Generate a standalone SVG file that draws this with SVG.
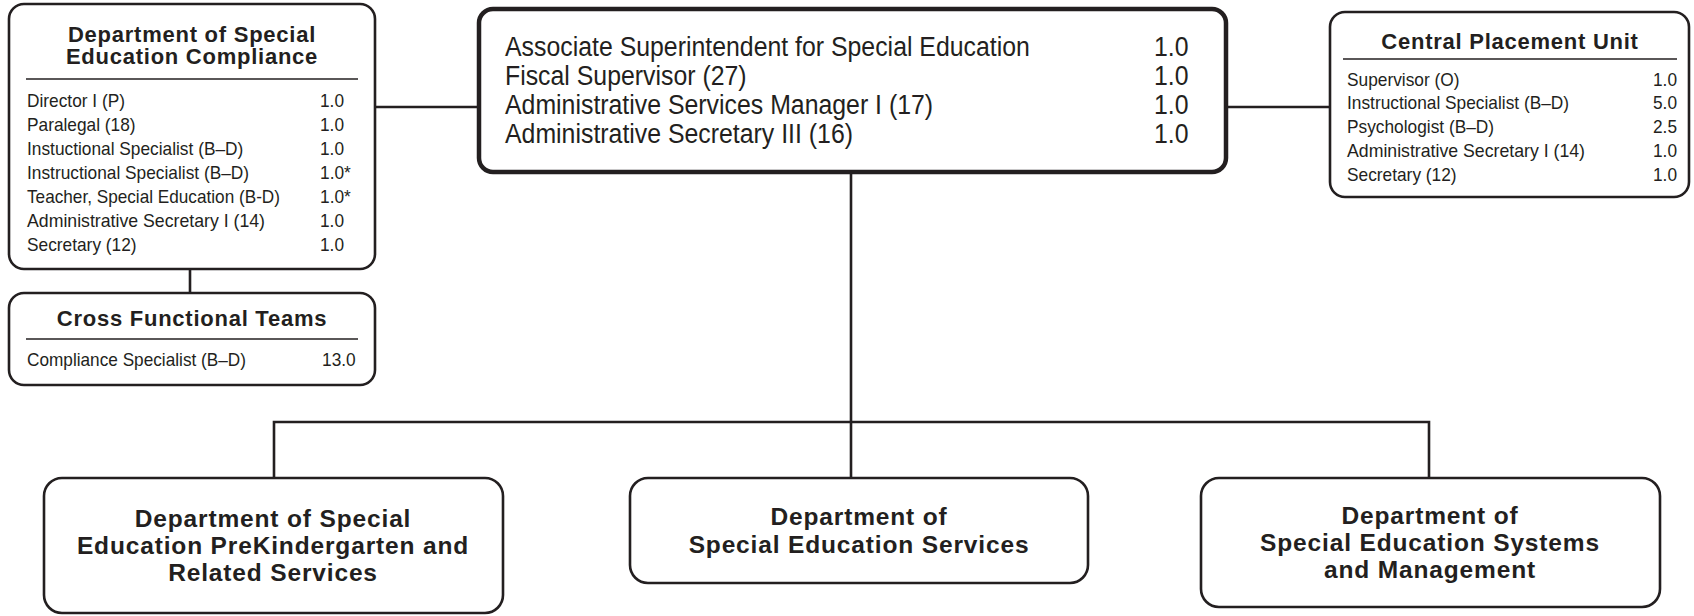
<svg xmlns="http://www.w3.org/2000/svg" width="1694" height="616" viewBox="0 0 1694 616">
<style>
.box{fill:#fff;stroke:#231f20;stroke-width:2.6}
.main{fill:#fff;stroke:#231f20;stroke-width:4.5}
.conn{fill:none;stroke:#231f20;stroke-width:2.6}
.rule{stroke:#231f20;stroke-width:1.4}
.t{font-family:"Liberation Sans",Arial,sans-serif;font-weight:bold;font-size:22px;letter-spacing:0.75px;fill:#231f20;text-anchor:middle}
.bt{font-family:"Liberation Sans",Arial,sans-serif;font-weight:bold;font-size:24.5px;letter-spacing:0.85px;fill:#231f20;text-anchor:middle}
.r{font-family:"Liberation Sans",Arial,sans-serif;font-size:19px;fill:#231f20}
.m{font-family:"Liberation Sans",Arial,sans-serif;font-size:27px;fill:#231f20}
</style>
<rect width="1694" height="616" fill="#fff"/>
<g id="connectors">
<line class="conn" x1="375" y1="107" x2="478" y2="107"/>
<line class="conn" x1="1226" y1="107" x2="1330" y2="107"/>
<line class="conn" x1="190" y1="269" x2="190" y2="293"/>
<line class="conn" x1="851" y1="172" x2="851" y2="478"/>
<polyline class="conn" points="274,478 274,422 1429,422 1429,478"/>
</g>
<g id="compliance">
<rect class="box" x="9" y="4" width="366" height="265" rx="15"/>
<text class="t" x="192" y="41.5">Department of Special</text>
<text class="t" x="192" y="64">Education Compliance</text>
<line class="rule" x1="26" y1="79" x2="358" y2="79"/>
<text class="r" x="27" y="106.5" textLength="98" lengthAdjust="spacingAndGlyphs">Director I (P)</text>
<text class="r" x="27" y="130.5" textLength="108.6" lengthAdjust="spacingAndGlyphs">Paralegal (18)</text>
<text class="r" x="27" y="154.5" textLength="216.3" lengthAdjust="spacingAndGlyphs">Instuctional Specialist (B–D)</text>
<text class="r" x="27" y="178.5" textLength="222.1" lengthAdjust="spacingAndGlyphs">Instructional Specialist (B–D)</text>
<text class="r" x="27" y="202.5" textLength="253" lengthAdjust="spacingAndGlyphs">Teacher, Special Education (B-D)</text>
<text class="r" x="27" y="226.5" textLength="238" lengthAdjust="spacingAndGlyphs">Administrative Secretary I (14)</text>
<text class="r" x="27" y="250.5" textLength="109.6" lengthAdjust="spacingAndGlyphs">Secretary (12)</text>
<text class="r" x="320" y="106.5" textLength="24" lengthAdjust="spacingAndGlyphs">1.0</text>
<text class="r" x="320" y="130.5" textLength="24" lengthAdjust="spacingAndGlyphs">1.0</text>
<text class="r" x="320" y="154.5" textLength="24" lengthAdjust="spacingAndGlyphs">1.0</text>
<text class="r" x="320" y="178.5" textLength="30.8" lengthAdjust="spacingAndGlyphs">1.0*</text>
<text class="r" x="320" y="202.5" textLength="30.8" lengthAdjust="spacingAndGlyphs">1.0*</text>
<text class="r" x="320" y="226.5" textLength="24" lengthAdjust="spacingAndGlyphs">1.0</text>
<text class="r" x="320" y="250.5" textLength="24" lengthAdjust="spacingAndGlyphs">1.0</text>
</g>
<g id="cross-functional">
<rect class="box" x="9" y="293" width="366" height="92" rx="15"/>
<text class="t" x="192" y="326">Cross Functional Teams</text>
<line class="rule" x1="26" y1="339" x2="358" y2="339"/>
<text class="r" x="27" y="366" textLength="219" lengthAdjust="spacingAndGlyphs">Compliance Specialist (B–D)</text>
<text class="r" x="322" y="366" textLength="33.7" lengthAdjust="spacingAndGlyphs">13.0</text>
</g>
<g id="associate-superintendent">
<rect class="main" x="479" y="9" width="747" height="163" rx="14"/>
<text class="m" x="505" y="56" textLength="524.9" lengthAdjust="spacingAndGlyphs">Associate Superintendent for Special Education</text>
<text class="m" x="505" y="85" textLength="241.6" lengthAdjust="spacingAndGlyphs">Fiscal Supervisor (27)</text>
<text class="m" x="505" y="114" textLength="428.1" lengthAdjust="spacingAndGlyphs">Administrative Services Manager I (17)</text>
<text class="m" x="505" y="143" textLength="348" lengthAdjust="spacingAndGlyphs">Administrative Secretary III (16)</text>
<text class="m" x="1154" y="56" textLength="34.5" lengthAdjust="spacingAndGlyphs">1.0</text>
<text class="m" x="1154" y="85" textLength="34.5" lengthAdjust="spacingAndGlyphs">1.0</text>
<text class="m" x="1154" y="114" textLength="34.5" lengthAdjust="spacingAndGlyphs">1.0</text>
<text class="m" x="1154" y="143" textLength="34.5" lengthAdjust="spacingAndGlyphs">1.0</text>
</g>
<g id="central-placement">
<rect class="box" x="1330" y="12" width="359" height="185" rx="15"/>
<text class="t" x="1510" y="49">Central Placement Unit</text>
<line class="rule" x1="1343" y1="59" x2="1677" y2="59"/>
<text class="r" x="1347" y="85.5" textLength="112.5" lengthAdjust="spacingAndGlyphs">Supervisor (O)</text>
<text class="r" x="1347" y="109.4" textLength="222.1" lengthAdjust="spacingAndGlyphs">Instructional Specialist (B–D)</text>
<text class="r" x="1347" y="133.3" textLength="147.1" lengthAdjust="spacingAndGlyphs">Psychologist (B–D)</text>
<text class="r" x="1347" y="157.2" textLength="238" lengthAdjust="spacingAndGlyphs">Administrative Secretary I (14)</text>
<text class="r" x="1347" y="181.1" textLength="109.6" lengthAdjust="spacingAndGlyphs">Secretary (12)</text>
<text class="r" x="1653" y="85.5" textLength="24" lengthAdjust="spacingAndGlyphs">1.0</text>
<text class="r" x="1653" y="109.4" textLength="24" lengthAdjust="spacingAndGlyphs">5.0</text>
<text class="r" x="1653" y="133.3" textLength="24" lengthAdjust="spacingAndGlyphs">2.5</text>
<text class="r" x="1653" y="157.2" textLength="24" lengthAdjust="spacingAndGlyphs">1.0</text>
<text class="r" x="1653" y="181.1" textLength="24" lengthAdjust="spacingAndGlyphs">1.0</text>
</g>
<g id="prek">
<rect class="box" x="44" y="478" width="459" height="135" rx="18"/>
<text class="bt" x="273" y="527">Department of Special</text>
<text class="bt" x="273" y="554">Education PreKindergarten and</text>
<text class="bt" x="273" y="581">Related Services</text>
</g>
<g id="services">
<rect class="box" x="630" y="478" width="458" height="105" rx="18"/>
<text class="bt" x="859" y="525">Department of</text>
<text class="bt" x="859" y="553">Special Education Services</text>
</g>
<g id="systems">
<rect class="box" x="1201" y="478" width="459" height="129" rx="18"/>
<text class="bt" x="1430" y="524">Department of</text>
<text class="bt" x="1430" y="551">Special Education Systems</text>
<text class="bt" x="1430" y="578">and Management</text>
</g>
</svg>
